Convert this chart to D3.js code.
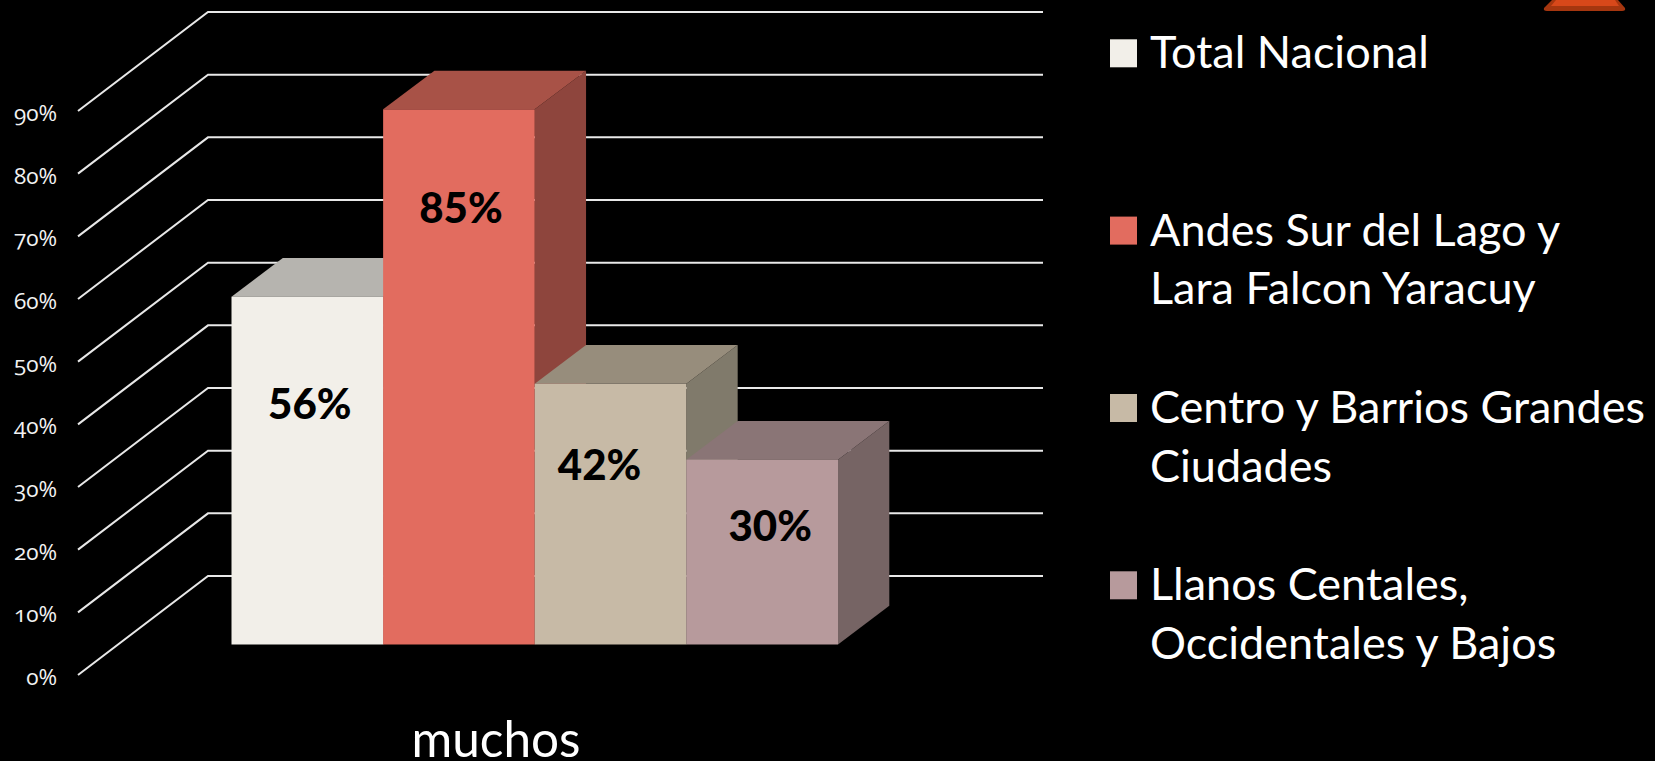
<!DOCTYPE html>
<html>
<head>
<meta charset="utf-8">
<script src="https://cdn.jsdelivr.net/npm/d3@7"></script>
<style>
  html, body { margin: 0; padding: 0; background: #000; overflow: hidden; }
  svg { display: block; }
  .tick text { font-family: "Open Sans", sans-serif; font-weight: 400; font-feature-settings: "onum"; }
</style>
</head>
<body>
<svg width="1655" height="761"></svg>
<script>
var categories = ["Total Nacional", "Andes Sur del Lago y", "Centro y Barrios Grandes", "Llanos Centales,"];
var secondLines = ["", "Lara Falcon Yaracuy", "Ciudades", "Occidentales y Bajos"];
var values = [55.5, 85.4, 41.6, 29.5];
var barColors = ["#f2efe9", "#e26c5f", "#c7baa6", "#b79a9c"];
var topColors = ["#b6b4af", "#a85247", "#978d7c", "#8a7576"];
var sideColors = ["#918f8b", "#8e453d", "#807a6b", "#766464"];
var tickValues = [0, 10, 20, 30, 40, 50, 60, 70, 80, 90];
var legendRows = [53.3, 230.6, 408, 585.3];

var svg = d3.select("svg");

var y = d3.scaleLinear().domain([0, 90]).range([675, 111]);
var x = d3.scaleBand().domain(categories).range([231.5, 838]);

// wall is 130,-99 behind the axis, bars stand in the middle of the floor
var wallDx = 130, wallDy = -99, wallRight = 1043;
var barDx = 51.3, barDy = -38.7, barBaseShift = -30.5;

// the data labels were placed by hand in the original, so they don't follow the bars
var labelShiftX = [2.5, 2, -11, 8];
var labelDrop = [122, 114, 96, 81];

var yAxis = d3.axisLeft(y)
  .tickValues(tickValues)
  .tickSize(0)
  .tickPadding(0)
  .tickFormat(function(d) { return d + "%"; });

var axisG = svg.append("g")
  .attr("transform", "translate(57,0)")
  .call(yAxis);
axisG.select(".domain").remove();
axisG.selectAll("text")
  .attr("fill", "#f2f2f2")
  .attr("font-size", 22.5)
  .attr("dy", "0.42em");

svg.append("g")
  .selectAll("path")
  .data(tickValues)
  .enter().append("path")
  .attr("fill", "none")
  .attr("stroke", "#e8e8e8")
  .attr("stroke-width", 2)
  .attr("d", function(d) {
    return d3.line()([
      [78, y(d)],
      [78 + wallDx, y(d) + wallDy],
      [wallRight, y(d) + wallDy]
    ]);
  });

var bars = svg.append("g")
  .selectAll("g")
  .data(categories)
  .enter().append("g");

function barTop(i) { return y(values[i]) + barBaseShift; }
var base = y(0) + barBaseShift;

bars.append("path")
  .attr("fill", function(d, i) { return sideColors[i]; })
  .attr("d", function(d, i) {
    var r = x(d) + x.bandwidth();
    return d3.line()([[r, barTop(i)], [r + barDx, barTop(i) + barDy], [r + barDx, base + barDy], [r, base]]) + "Z";
  });

bars.append("path")
  .attr("fill", function(d, i) { return topColors[i]; })
  .attr("d", function(d, i) {
    var l = x(d), r = l + x.bandwidth();
    return d3.line()([[l, barTop(i)], [l + barDx, barTop(i) + barDy], [r + barDx, barTop(i) + barDy], [r, barTop(i)]]) + "Z";
  });

bars.append("rect")
  .attr("x", function(d) { return x(d); })
  .attr("y", function(d, i) { return barTop(i); })
  .attr("width", x.bandwidth())
  .attr("height", function(d, i) { return base - barTop(i); })
  .attr("fill", function(d, i) { return barColors[i]; });

bars.append("text")
  .attr("x", function(d, i) { return x(d) + x.bandwidth() / 2 + labelShiftX[i]; })
  .attr("y", function(d, i) { return barTop(i) + labelDrop[i]; })
  .attr("text-anchor", "middle")
  .attr("font-family", "Lato, sans-serif")
  .attr("font-weight", 900)
  .attr("font-size", 42)
  .attr("fill", "#000")
  .text(function(d, i) { return Math.round(values[i]) + "%"; });

// legend
var legend = svg.append("g")
  .selectAll("g")
  .data(categories)
  .enter().append("g")
  .attr("transform", function(d, i) { return "translate(1110," + legendRows[i] + ")"; });

legend.append("rect")
  .attr("x", 0)
  .attr("y", -14)
  .attr("width", 27)
  .attr("height", 28)
  .attr("fill", function(d, i) { return barColors[i]; });

legend.append("text")
  .attr("x", 40)
  .attr("y", 15)
  .attr("font-family", "Lato, sans-serif")
  .attr("font-weight", 400)
  .attr("font-size", 45)
  .attr("fill", "#fff")
  .text(function(d) { return d; });

legend.append("text")
  .attr("x", 40)
  .attr("y", 73.5)
  .attr("font-family", "Lato, sans-serif")
  .attr("font-weight", 400)
  .attr("font-size", 45)
  .attr("fill", "#fff")
  .text(function(d, i) { return secondLines[i]; });

svg.append("text")
  .attr("x", 496)
  .attr("y", 757)
  .attr("text-anchor", "middle")
  .attr("font-family", "Lato, sans-serif")
  .attr("font-weight", 400)
  .attr("font-size", 49.5)
  .attr("fill", "#fff")
  .text("muchos");

// corner of the slide decoration, cut by the top edge
svg.append("path").attr("fill", "#a5360f").attr("d", "M1552,0L1544,8Q1543,11 1547,11L1622,11Q1626,11 1625,8L1618,0Z");
svg.append("path").attr("fill", "#d8481a").attr("d", "M1556,0L1551,6L1619,6L1615,0Z");
</script>
</body>
</html>
